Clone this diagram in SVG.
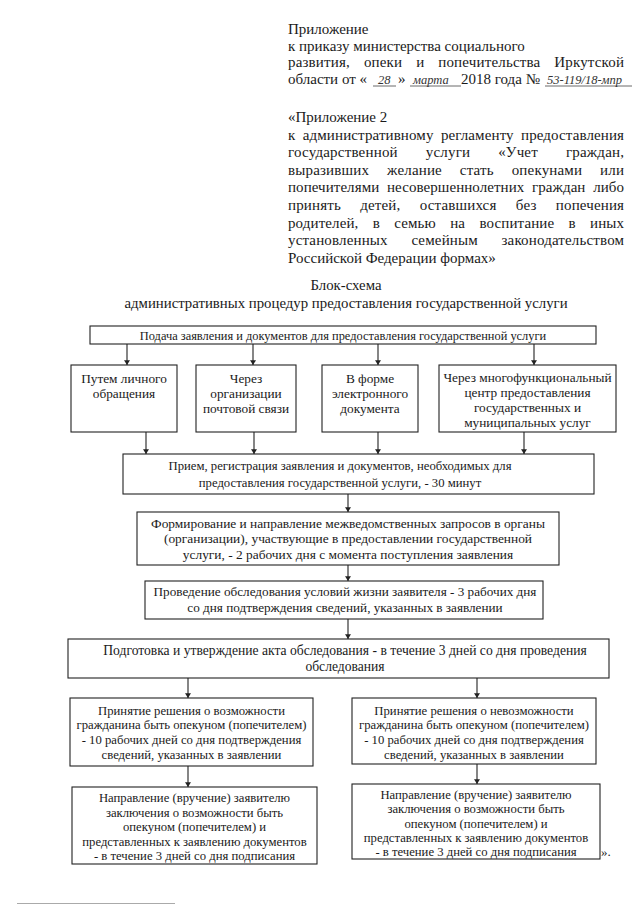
<svg xmlns="http://www.w3.org/2000/svg" width="640" height="905" viewBox="0 0 640 905">
<style>
.h{font-family:"Liberation Serif","Times New Roman",serif;font-size:15px;fill:#1a1a1a}
.hw{font-family:"Liberation Serif","Times New Roman",serif;font-style:italic;font-size:12.5px;fill:#333}
.tt{font-family:"Liberation Serif","Times New Roman",serif;font-size:14.8px;fill:#1a1a1a;text-anchor:middle}
.t{font-family:"Liberation Serif","Times New Roman",serif;font-size:12.7px;fill:#1a1a1a;text-anchor:middle}
.t2{font-family:"Liberation Serif","Times New Roman",serif;font-size:13.3px;fill:#1a1a1a;text-anchor:middle}
.t3{font-family:"Liberation Serif","Times New Roman",serif;font-size:13.4px;fill:#1a1a1a;text-anchor:middle}
.box{fill:#fff;stroke:#222;stroke-width:1.1}
.c{stroke:#222;stroke-width:1.1;fill:none}
.ul{stroke:#444;stroke-width:0.8}
</style>
<defs>
<marker id="ah" viewBox="0 0 8 10" refX="8" refY="5" markerWidth="7" markerHeight="6" orient="auto" markerUnits="userSpaceOnUse"><path d="M0,0 L8,5 L0,10 z" fill="#222"/></marker>
</defs>
<rect width="640" height="905" fill="#fff"/>

<g id="header">
<text class="h" x="288" y="34">Приложение</text>
<text class="h" x="288" y="50.5">к приказу министерства социального</text>
<text class="h" x="288" y="67" word-spacing="10" textLength="336" lengthAdjust="spacing">развития, опеки и попечительства Иркутской</text>
<text class="h" x="288" y="84">области от «</text>
<line class="ul" x1="373" y1="86" x2="396" y2="86"/>
<text class="hw" x="378" y="84">28</text>
<text class="h" x="398" y="84">»</text>
<line class="ul" x1="410" y1="86" x2="461" y2="86"/>
<text class="hw" x="413" y="84">марта</text>
<text class="h" x="461" y="84">2018 года №</text>
<line class="ul" x1="545" y1="86" x2="632" y2="86"/>
<text class="hw" x="547" y="84">53-119/18-мпр</text>

<text class="h" x="288" y="122">«Приложение 2</text>
<text class="h" x="288" y="139.6" word-spacing="3.5" textLength="336" lengthAdjust="spacing">к административному регламенту предоставления</text>
<text class="h" x="288" y="157.2" word-spacing="24" textLength="336" lengthAdjust="spacing">государственной услуги «Учет граждан,</text>
<text class="h" x="288" y="174.8" word-spacing="14" textLength="336" lengthAdjust="spacing">выразивших желание стать опекунами или</text>
<text class="h" x="288" y="192.4" word-spacing="3.9" textLength="336" lengthAdjust="spacing">попечителями несовершеннолетних граждан либо</text>
<text class="h" x="288" y="210" word-spacing="15.5" textLength="336" lengthAdjust="spacing">принять детей, оставшихся без попечения</text>
<text class="h" x="288" y="227.6" word-spacing="10.5" textLength="336" lengthAdjust="spacing">родителей, в семью на воспитание в иных</text>
<text class="h" x="288" y="245.2" word-spacing="19.8" textLength="336" lengthAdjust="spacing">установленных семейным законодательством</text>
<text class="h" x="288" y="262.8">Российской Федерации формах»</text>
</g>

<g id="title">
<text class="tt" x="346" y="290">Блок-схема</text>
<text class="tt" x="346" y="308">административных процедур предоставления государственной услуги</text>
</g>

<g id="connectors">
<line class="c" x1="127" y1="344" x2="127" y2="365" marker-end="url(#ah)"/>
<line class="c" x1="253" y1="344" x2="253" y2="365" marker-end="url(#ah)"/>
<line class="c" x1="378" y1="344" x2="378" y2="365" marker-end="url(#ah)"/>
<line class="c" x1="534" y1="344" x2="534" y2="365" marker-end="url(#ah)"/>
<line class="c" x1="146" y1="432" x2="146" y2="454" marker-end="url(#ah)"/>
<line class="c" x1="254" y1="432" x2="254" y2="454" marker-end="url(#ah)"/>
<line class="c" x1="378" y1="432" x2="378" y2="454" marker-end="url(#ah)"/>
<line class="c" x1="524" y1="432" x2="524" y2="454" marker-end="url(#ah)"/>
<line class="c" x1="348" y1="494" x2="348" y2="512" marker-end="url(#ah)"/>
<line class="c" x1="348" y1="565" x2="348" y2="581" marker-end="url(#ah)"/>
<line class="c" x1="348" y1="619" x2="348" y2="639" marker-end="url(#ah)"/>
<line class="c" x1="188" y1="678" x2="188" y2="698" marker-end="url(#ah)"/>
<line class="c" x1="477" y1="678" x2="477" y2="698" marker-end="url(#ah)"/>
<line class="c" x1="188" y1="766" x2="188" y2="787" marker-end="url(#ah)"/>
<line class="c" x1="477" y1="764" x2="477" y2="784" marker-end="url(#ah)"/>
</g>

<g id="n1">
<rect class="box" x="90" y="326" width="506" height="18"/>
<text class="t" x="343" y="339.5" style="font-size:12.4px">Подача заявления и документов для предоставления государственной услуги</text>
</g>
<g id="n2">
<rect class="box" x="71" y="365" width="106" height="67"/>
<text class="t2" x="124" y="382.5">Путем личного</text>
<text class="t2" x="124" y="397.5">обращения</text>
</g>
<g id="n3">
<rect class="box" x="196" y="365" width="100" height="67"/>
<text class="t2" x="246" y="382.5">Через</text>
<text class="t2" x="246" y="397.5">организации</text>
<text class="t2" x="246" y="412.5">почтовой связи</text>
</g>
<g id="n4">
<rect class="box" x="322" y="365" width="96" height="67"/>
<text class="t2" x="370" y="382.5">В форме</text>
<text class="t2" x="370" y="397.5">электронного</text>
<text class="t2" x="370" y="412.5">документа</text>
</g>
<g id="n5">
<rect class="box" x="439" y="365" width="177" height="67"/>
<text class="t2" x="527.5" y="382">Через многофункциональный</text>
<text class="t2" x="527.5" y="397">центр предоставления</text>
<text class="t2" x="527.5" y="412">государственных и</text>
<text class="t2" x="527.5" y="427">муниципальных услуг</text>
</g>
<g id="n6">
<rect class="box" x="123" y="454" width="471" height="40"/>
<text class="t" x="340" y="470">Прием, регистрация заявления и документов, необходимых для</text>
<text class="t" x="340" y="487">предоставления государственной услуги, - 30 минут</text>
</g>
<g id="n7">
<rect class="box" x="137" y="512" width="422" height="53"/>
<text class="t3" x="348" y="527.5">Формирование и направление межведомственных запросов в органы</text>
<text class="t3" x="348" y="543">(организации), участвующие в  предоставлении государственной</text>
<text class="t3" x="348" y="558.5">услуги, - 2 рабочих дня с момента поступления заявления</text>
</g>
<g id="n8">
<rect class="box" x="145" y="581" width="398" height="38"/>
<text class="t3" x="345" y="596" style="font-size:13.2px">Проведение обследования условий жизни заявителя - 3 рабочих дня</text>
<text class="t3" x="345" y="612" style="font-size:13.2px">со дня подтверждения сведений, указанных в заявлении</text>
</g>
<g id="n9">
<rect class="box" x="68" y="639" width="541" height="39"/>
<text class="t3" x="345" y="655" style="font-size:13.6px">Подготовка и утверждение акта обследования - в течение 3 дней со дня проведения</text>
<text class="t3" x="345" y="671" style="font-size:13.6px">обследования</text>
</g>
<g id="n10">
<rect class="box" x="70" y="698" width="243" height="68"/>
<text class="t" x="191.5" y="714.5">Принятие решения о  возможности</text>
<text class="t" x="191.5" y="729">гражданина быть опекуном (попечителем)</text>
<text class="t" x="191.5" y="744">- 10 рабочих дней со дня подтверждения</text>
<text class="t" x="191.5" y="758.5">сведений, указанных в заявлении</text>
</g>
<g id="n11">
<rect class="box" x="352" y="698" width="244" height="66"/>
<text class="t" x="474" y="714.5">Принятие решения о  невозможности</text>
<text class="t" x="474" y="729">гражданина быть опекуном (попечителем)</text>
<text class="t" x="474" y="744">- 10 рабочих дней со дня подтверждения</text>
<text class="t" x="474" y="758.5">сведений, указанных в заявлении</text>
</g>
<g id="n12">
<rect class="box" x="72" y="787" width="245" height="77"/>
<text class="t" x="194.5" y="802">Направление (вручение) заявителю</text>
<text class="t" x="194.5" y="816.5">заключения о возможности быть</text>
<text class="t" x="194.5" y="831">опекуном (попечителем) и</text>
<text class="t" x="194.5" y="845.5">представленных к заявлению документов</text>
<text class="t" x="194.5" y="860">- в течение 3 дней со дня подписания</text>
</g>
<g id="n13">
<rect class="box" x="352" y="784" width="248" height="75"/>
<text class="t" x="476" y="798.5">Направление (вручение) заявителю</text>
<text class="t" x="476" y="813">заключения о возможности быть</text>
<text class="t" x="476" y="827.5">опекуном (попечителем) и</text>
<text class="t" x="476" y="842">представленных к заявлению документов</text>
<text class="t" x="476" y="856">- в течение 3 дней со дня подписания</text>
</g>
<text class="h" x="601" y="856" style="font-size:13px">».</text>
<line x1="17" y1="903.5" x2="175" y2="903.5" stroke="#aaa" stroke-width="1"/>
</svg>
